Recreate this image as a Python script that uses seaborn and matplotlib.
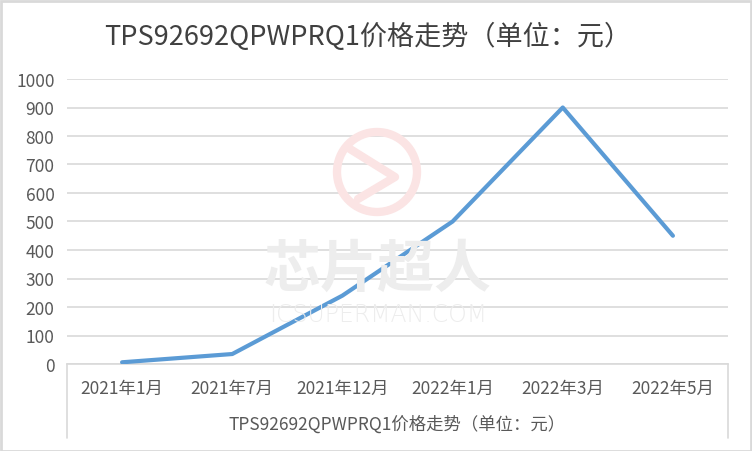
import matplotlib
matplotlib.use("Agg")
import matplotlib.pyplot as plt
import matplotlib.patches as mpatches
import matplotlib.lines as mlines
from matplotlib.transforms import IdentityTransform
import seaborn as sns
import pandas as pd

categories = ["2021年1月", "2021年7月", "2021年12月", "2022年1月", "2022年3月", "2022年5月"]
prices = [6, 35, 240, 500, 900, 450]
yticks = [0, 100, 200, 300, 400, 500, 600, 700, 800, 900, 1000]
title = "TPS92692QPWPRQ1价格走势（单位：元）"

sns.set_theme(style="white")
plt.rcParams['font.family'] = ['Noto Sans CJK SC', 'DejaVu Sans']

df = pd.DataFrame({"x": list(range(len(categories))), "price": prices})

W, H = 752, 452
fig = plt.figure(figsize=(W / 100, H / 100), dpi=100)
fig.patch.set_facecolor("white")

L, R, T, B = 67, 728, 80, 365
ax = fig.add_axes([L / W, 1 - B / H, (R - L) / W, (B - T) / H])
ax.set_facecolor("none")

# watermark (pixel coordinates, origin bottom-left)
pink = "#fbe4e4"
circ = mpatches.Circle((377, H - 173), 40, transform=IdentityTransform(),
                       fill=False, edgecolor=pink, linewidth=6, zorder=0)
fig.patches.append(circ)
fig.lines.append(mlines.Line2D([350, 395, 358], [H - 150, H - 178, H - 200],
                               transform=IdentityTransform(), color=pink, linewidth=6, zorder=0))
fig.text(377 / W, 1 - 270 / H, "芯片超人", ha="center", va="center", fontsize=41,
         color="#ededed", fontweight="bold", style="italic", zorder=0)
fig.text(378 / W, 1 - 315 / H, "ICSUPERMAN.COM", ha="center", va="center", fontsize=17,
         color="#ededed", fontfamily="DejaVu Sans", fontweight="light", zorder=0)

sns.lineplot(data=df, x="x", y="price", ax=ax, color="#5b9bd5", linewidth=3,
             solid_capstyle="round", zorder=3)

ax.set_xlim(-0.5, len(categories) - 0.5)
ax.set_ylim(0, 1000)
ax.set_yticks(yticks)
ax.set_yticklabels([str(v) for v in yticks], fontsize=12.5, color="#595959")
ax.set_xticks(range(len(categories)))
ax.set_xticklabels(categories, fontsize=12.5, color="#595959")
ax.tick_params(axis="both", length=0)
ax.tick_params(axis="x", pad=11)
ax.tick_params(axis="y", pad=9)
ax.grid(axis="y", color="#d9d9d9", linewidth=1.2)
ax.set_axisbelow(True)
for s in ["top", "right", "left"]:
    ax.spines[s].set_visible(False)
ax.spines["bottom"].set_color("#d9d9d9")
ax.spines["bottom"].set_linewidth(1.2)
ax.set_ylabel("")
ax.set_xlabel(title, fontsize=12.5, color="#595959", labelpad=12)

# axis table vertical lines
for xp in [L, R]:
    fig.lines.append(mlines.Line2D([xp / W, xp / W], [1 - B / H, 1 - 439 / H],
                                   transform=fig.transFigure, color="#d9d9d9", linewidth=1.2))

fig.text(368 / W, 1 - 37 / H, title, ha="center", va="center", fontsize=19.5, color="#404040")

# outer border
fig.patches.append(mpatches.Rectangle((0.5 / W, 0.5 / H), (W - 2) / W, (H - 2) / H,
                                      transform=fig.transFigure, fill=False,
                                      edgecolor="#d9d9d9", linewidth=2))

fig.savefig("out.png", dpi=100, facecolor="white")
